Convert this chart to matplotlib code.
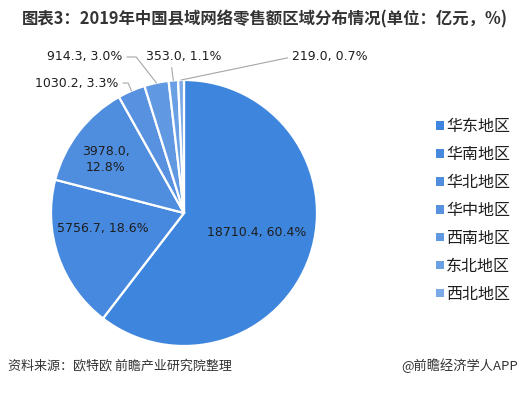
import numpy as np
import matplotlib
matplotlib.use("Agg")
import matplotlib.pyplot as plt
from matplotlib.patches import Patch

plt.rcParams["font.family"] = ["Noto Sans CJK SC", "DejaVu Sans"]

regions = ["华东地区", "华南地区", "华北地区", "华中地区", "西南地区", "东北地区", "西北地区"]
sales = [18710.4, 5756.7, 3978.0, 1030.2, 914.3, 353.0, 219.0]
colors = ["#3E86DD", "#4789DE", "#4F8EDF", "#5791E0", "#6098E2", "#6CA0E5", "#7AAAE8"]

title = "图表3：2019年中国县域网络零售额区域分布情况(单位：亿元，%)"
source = "资料来源：欧特欧 前瞻产业研究院整理"
brand = "@前瞻经济学人APP"

W, H = 528, 396
fig = plt.figure(figsize=(W / 100, H / 100), dpi=100)

# pie axes: centre (184, 213) px, radius 133 px
cx, cy, r = 184, 213, 133
ax = fig.add_axes([(cx - r) / W, (H - cy - r) / H, 2 * r / W, 2 * r / H])
wedges, _ = ax.pie(
    sales,
    colors=colors,
    startangle=90,
    counterclock=False,
    radius=1,
    wedgeprops=dict(edgecolor="white", linewidth=1.6),
)
ax.set_xlim(-1, 1)
ax.set_ylim(-1, 1)
ax.set_aspect("equal")
ax.axis("off")

total = sum(sales)
labels = [f"{v:.1f}, {v / total * 100:.1f}%" for v in sales]
txt_color = "#1E1E1E"

# labels inside the big slices
inside = {0: (0.55, -0.15), 1: (-0.61, -0.115), 2: (-0.59, 0.40)}
for i, (x, y) in inside.items():
    lab = labels[i]
    if i == 2:
        lab = lab.replace(", ", ",\n")
    ax.text(x, y, lab, ha="center", va="center", fontsize=9,
            color=txt_color, family="DejaVu Sans", linespacing=1.3)

# labels outside the small slices, with leader lines
outside = {
    3: dict(xytext=(-0.49, 0.977), ha="right", relpos=(1, 0.5), conn="angle,angleA=0,angleB=113,rad=0"),
    4: dict(xytext=(-0.46, 1.173), ha="right", relpos=(1, 0.5), conn="angle,angleA=0,angleB=128,rad=0"),
    5: dict(xytext=(0.0, 1.173), ha="center", relpos=(0.33, 0), conn="arc3"),
    6: dict(xytext=(0.81, 1.173), ha="left", relpos=(0, 0.5), conn="arc3"),
}
for i, o in outside.items():
    w = wedges[i]
    ang = np.deg2rad((w.theta1 + w.theta2) / 2)
    ax.annotate(
        labels[i],
        xy=(np.cos(ang), np.sin(ang)),
        xytext=o["xytext"],
        ha=o["ha"], va="center", fontsize=9, color=txt_color,
        family="DejaVu Sans", annotation_clip=False,
        arrowprops=dict(arrowstyle="-", color="#A6A6A6", lw=0.8,
                        relpos=o["relpos"], connectionstyle=o["conn"],
                        shrinkA=1, shrinkB=0),
    )

handles = [Patch(facecolor=c, edgecolor="none") for c in colors]
fig.legend(handles, regions, loc="upper left",
           bbox_to_anchor=(422 / W, 1 - 104 / H), frameon=False,
           fontsize=11.5, handlelength=0.45, handleheight=0.45,
           handletextpad=0.15, labelspacing=0.68, labelcolor="#1E1E1E")

fig.text(22 / W, 1 - 19 / H, title, fontsize=11.8, fontweight="bold",
         color="#333333", ha="left", va="center")
fig.text(8 / W, 1 - 366 / H, source, fontsize=9.4, color="#333333",
         ha="left", va="center")
fig.text(518 / W, 1 - 366 / H, brand, fontsize=9.5, color="#333333",
         ha="right", va="center")

fig.savefig("out.png", dpi=100)
